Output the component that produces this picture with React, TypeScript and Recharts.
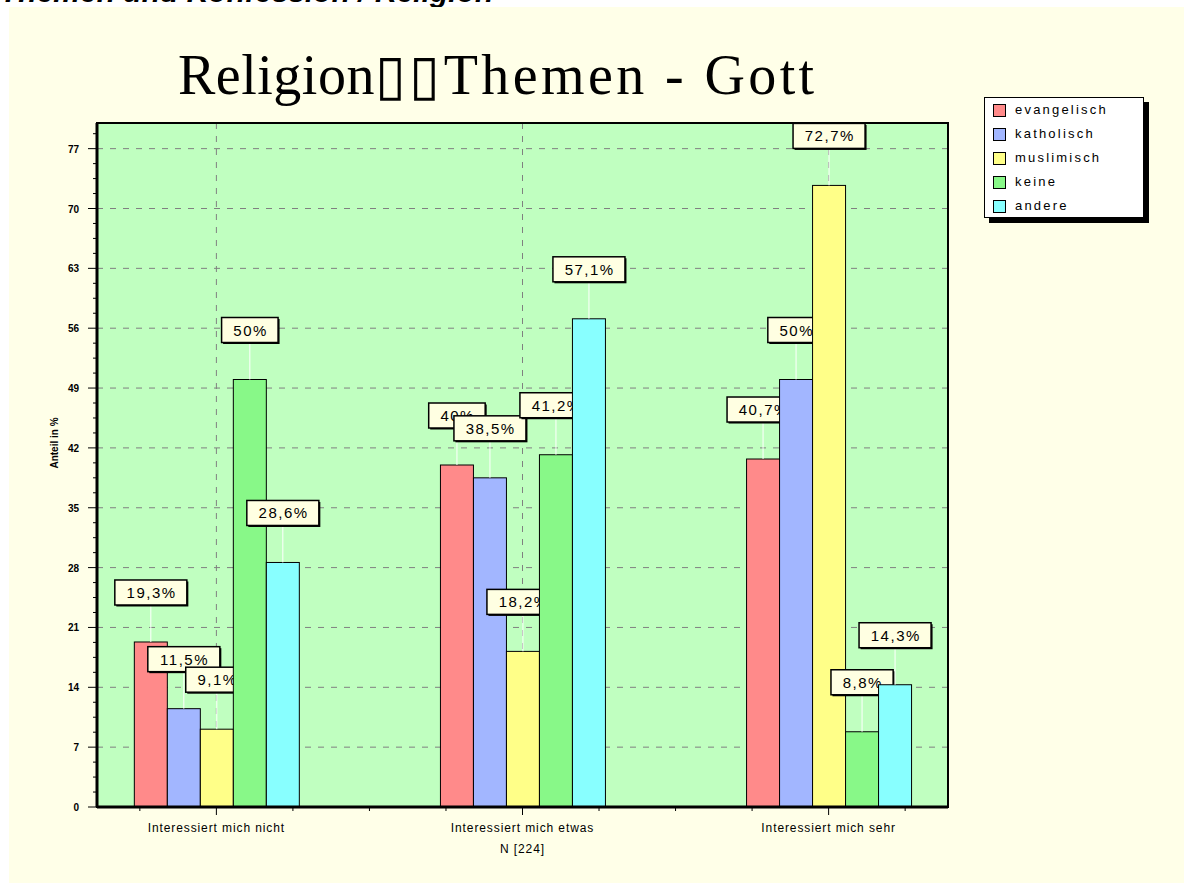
import React from 'react';
import { BarChart, Bar, XAxis, YAxis, CartesianGrid, Legend, ReferenceArea } from 'recharts';

const pageHeading = 'Themen und Konfession / Religion';
const titleStart = 'Religion';
const titleRest = '\u25AF\u25AFThemen - Gott';
const yAxisTitle = 'Anteil in %';
const sampleSize = 'N [224]';

const categories = ['Interessiert mich nicht', 'Interessiert mich etwas', 'Interessiert mich sehr'];
const evangelisch = [19.3, 40, 40.7];
const katholisch = [11.5, 38.5, 50];
const muslimisch = [9.1, 18.2, 72.7];
const keine = [50, 41.2, 8.8];
const andere = [28.6, 57.1, 14.3];

const seriesNames = ['evangelisch', 'katholisch', 'muslimisch', 'keine', 'andere'];
const seriesValues = [evangelisch, katholisch, muslimisch, keine, andere];
const seriesColors = ['#FF8A8A', '#A2B6FF', '#FFFF88', '#88F888', '#88FFFF'];

const yMax = 80;
const yMajorTicks = [0, 7, 14, 21, 28, 35, 42, 49, 56, 63, 70, 77];
const yMinorStep = 1.75;
const xTicks = [-0.25, 0, 0.25, 0.5, 0.75, 1, 1.25, 1.5, 1.75, 2, 2.25];

const data = categories.map((c, i) => {
  const row: any = { x: i, name: c };
  seriesNames.forEach((s, k) => { row[s] = seriesValues[k][i]; });
  return row;
});

const yTicks: number[] = [];
yMajorTicks.forEach((m) => {
  for (let j = 0; j < 4; j++) {
    const t = m + j * yMinorStep;
    if (t <= yMax) yTicks.push(t);
  }
});

const fmt = (v: number) => String(v).replace('.', ',') + '%';
const charW = (ch: string) => (ch === ',' ? 4.2 : ch === '%' ? 13.3 : 8.34);
const labelWidth = (s: string) => s.split('').reduce((a, ch) => a + charW(ch) + 1.5, 0);

const makeShape = (key: string) => (props: any) => {
  const { x, y, width, height, fill, payload } = props;
  const v = payload[key];
  const label = fmt(v);
  const cx = x + width / 2;
  const bw = labelWidth(label) + 22;
  const bh = 25;
  const by = y - 37 - bh;
  return (
    <g>
      <rect x={x} y={y} width={width} height={height} fill={fill} stroke="#000" strokeWidth={1} />
      <line x1={cx} x2={cx} y1={by + bh} y2={y} stroke="#ffffff" strokeWidth={1} />
      <rect x={cx - bw / 2 + 1.5} y={by + 1.5} width={bw} height={bh} fill="#000" />
      <rect x={cx - bw / 2} y={by} width={bw} height={bh} fill="#FFFFE2" stroke="#000" strokeWidth={1.5} />
      <text x={cx + 0.75} y={by + 18} textAnchor="middle" fontSize={15} letterSpacing={1.5}
        fontFamily="'Liberation Sans', Arial, sans-serif" fill="#000">{label}</text>
    </g>
  );
};

const YTick = (props: any) => {
  const { x, y, payload } = props;
  const v = payload.value;
  const major = Math.abs(v / 7 - Math.round(v / 7)) < 1e-6;
  return (
    <g>
      <line x1={major ? x - 9 : x - 4} x2={x} y1={y} y2={y} stroke="#000" strokeWidth={1} />
      {major && (
        <text x={x - 18} y={y + 4} textAnchor="end" fontSize={10} fontWeight="bold"
          fontFamily="'Liberation Sans', Arial, sans-serif" fill="#000">{Math.round(v)}</text>
      )}
    </g>
  );
};

const XTick = (props: any) => {
  const { x, y, payload } = props;
  const v = payload.value;
  const major = Math.abs(v - Math.round(v)) < 1e-6;
  return (
    <g>
      <line x1={x} x2={x} y1={y} y2={y + (major ? 8 : 4)} stroke="#000" strokeWidth={1} />
      {major && (
        <text x={x} y={y + 25} textAnchor="middle" fontSize={12} letterSpacing={0.9}
          fontFamily="'Liberation Sans Narrow', 'Liberation Sans', Arial, sans-serif" fill="#000">
          {categories[Math.round(v)]}
        </text>
      )}
    </g>
  );
};

const YLabel = (props: any) => {
  const vb = props.viewBox || { x: 0, y: 0, width: 0, height: 0 };
  const cx = 58;
  const cy = vb.y + vb.height / 2 - 22;
  return (
    <text x={cx} y={cy} transform={`rotate(-90, ${cx}, ${cy})`} textAnchor="middle" fontSize={10}
      fontWeight="bold" fontFamily="'Liberation Sans Narrow', 'Liberation Sans', Arial, sans-serif" fill="#000">
      {yAxisTitle}
    </text>
  );
};

const LegendBox = (props: any) => {
  const payload = (props.payload || []).slice().sort(
    (a: any, b: any) => seriesNames.indexOf(a.value) - seriesNames.indexOf(b.value)
  );
  return (
    <div style={{ position: 'relative', width: 165, height: 127 }}>
      <div style={{ position: 'absolute', left: 5, top: 5, width: 160, height: 121, background: '#000' }} />
      <div style={{ position: 'absolute', left: 0, top: 0, width: 158, height: 119, background: '#fff', border: '1px solid #000' }}>
        {payload.map((p: any, i: number) => (
          <div key={p.value} style={{ position: 'absolute', left: 8, top: 5 + i * 24, height: 14, display: 'flex', alignItems: 'center' }}>
            <div style={{ width: 11, height: 11, background: p.color, border: '1px solid #000' }} />
            <span style={{ marginLeft: 9, fontSize: 13, letterSpacing: 2.2, fontFamily: "'Liberation Sans', Arial, sans-serif", color: '#000', lineHeight: '14px' }}>
              {p.value}
            </span>
          </div>
        ))}
      </div>
    </div>
  );
};

export default function App() {
  return (
    <div style={{ position: 'absolute', left: 0, top: 0, width: 1184, height: 883, background: '#fff', overflow: 'hidden' }}>
      <div style={{ position: 'absolute', left: 0, top: -25, fontFamily: "'Liberation Sans', Arial, sans-serif", fontWeight: 'bold', fontStyle: 'italic', fontSize: 30, color: '#000', whiteSpace: 'nowrap' }}>
        {pageHeading}
      </div>
      <div style={{ position: 'absolute', left: 9, top: 7, right: 0, bottom: 0, background: '#FFFFE8' }} />
      <div style={{ position: 'absolute', left: 178, top: 42, fontFamily: "'Liberation Serif', 'Times New Roman', serif", fontSize: 56, color: '#000', whiteSpace: 'nowrap' }}>
        <span style={{ letterSpacing: 0.5 }}>{titleStart}</span>
        <span style={{ letterSpacing: 3.4 }}>{titleRest}</span>
      </div>
      <div style={{ position: 'absolute', left: 0, top: 0 }}>
        <BarChart width={1184} height={883} data={data} margin={{ top: 123, right: 236, bottom: 16, left: 0 }} barGap={0} barCategoryGap={0}>
          <CartesianGrid fill="#C0FFC0" fillOpacity={1} stroke="#808080" strokeDasharray="6 7"
            horizontalValues={yMajorTicks} verticalValues={[0, 1, 2]} />
          <XAxis type="number" dataKey="x" domain={[-0.39, 2.39]} allowDataOverflow ticks={xTicks} interval={0}
            tick={<XTick />} tickLine={false} tickSize={0} tickMargin={0} height={60}
            axisLine={{ stroke: '#000', strokeWidth: 3 }}
            label={{ value: sampleSize, position: 'insideBottom', offset: 14, fontSize: 12, fill: '#000', letterSpacing: 0.9, fontFamily: "'Liberation Sans Narrow', 'Liberation Sans', Arial, sans-serif" }} />
          <YAxis type="number" domain={[0, yMax]} allowDataOverflow ticks={yTicks} interval={0}
            tick={<YTick />} tickLine={false} tickSize={0} tickMargin={0} width={97}
            axisLine={{ stroke: '#000', strokeWidth: 3 }} label={<YLabel />} />
          <ReferenceArea x1={-0.39} x2={2.39} y1={0} y2={yMax} fill="none" stroke="#000" strokeWidth={2} ifOverflow="visible" />
          <Legend layout="horizontal" verticalAlign="middle" align="center" content={<LegendBox />}
            wrapperStyle={{ left: 984, top: 97, width: 165, height: 127 }} />
          {seriesNames.map((s, k) => (
            <Bar key={s} dataKey={s} name={s} fill={seriesColors[k]} barSize={33} isAnimationActive={false}
              shape={makeShape(s)} activeBar={false} />
          ))}
        </BarChart>
      </div>
    </div>
  );
}
